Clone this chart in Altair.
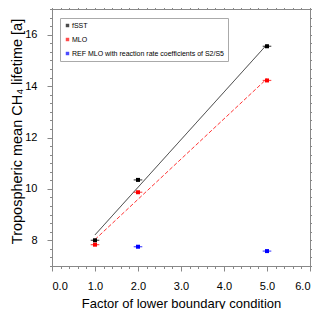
import altair as alt
import pandas as pd

factors = [1, 2, 5]
fsst = [8.0, 10.35, 15.55]
mlo = [7.83, 9.87, 14.22]
ref_x = [2, 5]
ref = [7.75, 7.58]
xerr = 0.1

fit_x = [1, 5]
fsst_fit = [8.21, 15.62]
mlo_fit = [8.03, 14.29]

series_names = ["fSST", "MLO", "REF MLO with reaction rate coefficients of S2/S5"]
series_colors = ["#000000", "#ff0000", "#0000ff"]

x_major = [0, 1, 2, 3, 4, 5, 6]
x_minor = [i / 5 for i in range(0, 31) if i % 5 != 0]
y_major = [8, 10, 12, 14, 16]
y_minor = [7 + i / 3 for i in range(0, 31) if i % 3 != 0 or (7 + i // 3) % 2 == 1]

rows = []
for x, y in zip(factors, fsst):
    rows.append({"x": x, "y": y, "s": series_names[0]})
for x, y in zip(factors, mlo):
    rows.append({"x": x, "y": y, "s": series_names[1]})
for x, y in zip(ref_x, ref):
    rows.append({"x": x, "y": y, "s": series_names[2]})
df = pd.DataFrame(rows)
df["xl"] = df["x"] - xerr
df["xh"] = df["x"] + xerr

fit_df = pd.DataFrame(
    [{"x": x, "y": y, "s": "fSST"} for x, y in zip(fit_x, fsst_fit)]
    + [{"x": x, "y": y, "s": "MLO"} for x, y in zip(fit_x, mlo_fit)]
)

xs = alt.Scale(domain=[0, 6], nice=False)
ys = alt.Scale(domain=[7, 17], nice=False)
legend = alt.Legend(title=None, orient="none", legendX=8, legendY=9,
                    symbolType="square", symbolSize=12, labelFontSize=7,
                    labelFont="Liberation Sans", rowPadding=6,
                    padding=4, fillColor="white", strokeColor="#aaa",
                    symbolStrokeWidth=0, labelOffset=1, labelLimit=300)
color = alt.Color("s:N", scale=alt.Scale(domain=series_names, range=series_colors), legend=legend)

ax_common = dict(domainColor="#888", tickColor="#888", grid=False, labelFont="Liberation Sans",
                 titleFont="Liberation Sans", labelColor="black", titleColor="black",
                 labelFontSize=11, titleFontWeight="normal")

def xaxis(orient, values, size, labels):
    return alt.Axis(orient=orient, values=values, tickSize=size, labels=labels,
                    format=".1f", title="Factor of lower boundary condition" if labels else None,
                    labelPadding=9, titlePadding=6, titleFontSize=13, **ax_common)

def yaxis(orient, values, size, labels):
    extra = {"titleY": 122} if labels else {}
    return alt.Axis(orient=orient, values=values, tickSize=size, labels=labels,
                    title="Tropospheric mean CH\u2084 lifetime [a]" if labels else None,
                    labelPadding=10, titlePadding=0, titleFontSize=14.5, **extra, **ax_common)

base = alt.Chart(df)

lines = alt.Chart(fit_df).mark_line(strokeWidth=0.8).encode(
    x=alt.X("x:Q", scale=xs, axis=xaxis("bottom", x_major, 5, True)),
    y=alt.Y("y:Q", scale=ys, axis=yaxis("left", y_major, 5, True)),
    color=color,
    strokeDash=alt.StrokeDash("s:N", scale=alt.Scale(domain=["fSST", "MLO"], range=[[1, 0], [4, 2]]), legend=None),
)

err = base.mark_rule(strokeWidth=1.2, opacity=0.7).encode(
    x=alt.X("xl:Q", scale=xs, axis=xaxis("top", x_major, 5, False)),
    x2="xh:Q",
    y=alt.Y("y:Q", scale=ys, axis=yaxis("right", y_major, 5, False)),
    color=color,
)

pts = base.mark_square(size=16, opacity=1).encode(
    x=alt.X("x:Q", scale=xs, axis=xaxis("bottom", x_minor, 2.5, False)),
    y=alt.Y("y:Q", scale=ys, axis=yaxis("left", y_minor, 2.5, False)),
    color=color,
)

pts2 = base.mark_square(size=0, opacity=0).encode(
    x=alt.X("x:Q", scale=xs, axis=xaxis("top", x_minor, 2.5, False)),
    y=alt.Y("y:Q", scale=ys, axis=yaxis("right", y_minor, 2.5, False)),
)

chart = alt.layer(lines, err, pts, pts2).resolve_axis(x="independent", y="independent").properties(
    width=258, height=257, autosize=alt.AutoSizeParams(type="none"),
    padding={"left": 44, "top": 1, "right": 2, "bottom": 43},
).configure_view(stroke="#888", strokeWidth=1)

chart.save("out.html", embed_options={"renderer": "svg", "actions": False})
